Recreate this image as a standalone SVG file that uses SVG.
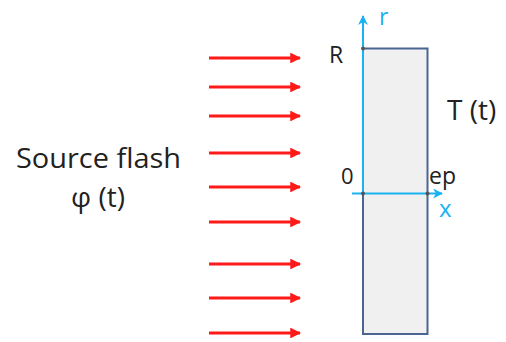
<svg xmlns="http://www.w3.org/2000/svg" width="506" height="342" viewBox="0 0 506 342">
<defs>
<marker id="ar" viewBox="0 0 10 10" refX="9" refY="5" markerWidth="3.6" markerHeight="3.6" orient="auto" markerUnits="strokeWidth"><path d="M0,0 L10,5 L0,10 z" fill="#ff1a1a"/></marker>
<marker id="ab" viewBox="0 0 10 10" refX="9" refY="5" markerWidth="5" markerHeight="5" orient="auto" markerUnits="strokeWidth"><path d="M0,0 L10,5 L0,10 L3,5 z" fill="#1ab2f0"/></marker>
</defs>
<style>
.t{font-family:"Open Sans","Liberation Sans",sans-serif;fill:#222}
.red{stroke:#ff1a1a;stroke-width:3;marker-end:url(#ar)}
.ax{stroke:#1ab2f0;stroke-width:2;marker-end:url(#ab)}
.ab{font-family:"Open Sans","Liberation Sans",sans-serif;fill:#1ab2f0}
</style>
<rect width="506" height="342" fill="#fff"/>
<g id="sample">
<rect x="363" y="48.5" width="64.5" height="285.5" fill="#f0f0f0" stroke="#4a6591" stroke-width="2"/>
</g>
<g id="connectors">
<line class="red" x1="209" y1="58" x2="300" y2="58"/>
<line class="red" x1="209" y1="87" x2="300" y2="87"/>
<line class="red" x1="209" y1="116" x2="300" y2="116"/>
<line class="red" x1="209" y1="153" x2="300" y2="153"/>
<line class="red" x1="209" y1="187" x2="300" y2="187"/>
<line class="red" x1="209" y1="222" x2="300" y2="222"/>
<line class="red" x1="209" y1="264" x2="300" y2="264"/>
<line class="red" x1="209" y1="298" x2="300" y2="298"/>
<line class="red" x1="209" y1="333" x2="300" y2="333"/>
<line class="ax" x1="363" y1="194" x2="363" y2="16"/>
<line class="ax" x1="352" y1="193.5" x2="442" y2="193.5"/>
</g>
<g id="points" fill="#555">
<circle cx="363" cy="48.5" r="2"/>
<circle cx="363" cy="193.5" r="2"/>
<circle cx="427.5" cy="193.5" r="2"/>
</g>
<g id="labels">
<text class="t" x="98.5" y="168" font-size="28" text-anchor="middle" textLength="165" lengthAdjust="spacingAndGlyphs">Source flash</text>
<text class="t" x="98" y="207" font-size="28" text-anchor="middle">φ (t)</text>
<text class="t" x="329" y="63" font-size="23">R</text>
<text class="t" x="341" y="184" font-size="22">0</text>
<text class="t" x="429" y="184" font-size="23">ep</text>
<text class="t" x="447" y="120" font-size="28">T (t)</text>
<text class="ab" x="379" y="25" font-size="23">r</text>
<text class="ab" x="439" y="217" font-size="24">x</text>
</g>
</svg>
